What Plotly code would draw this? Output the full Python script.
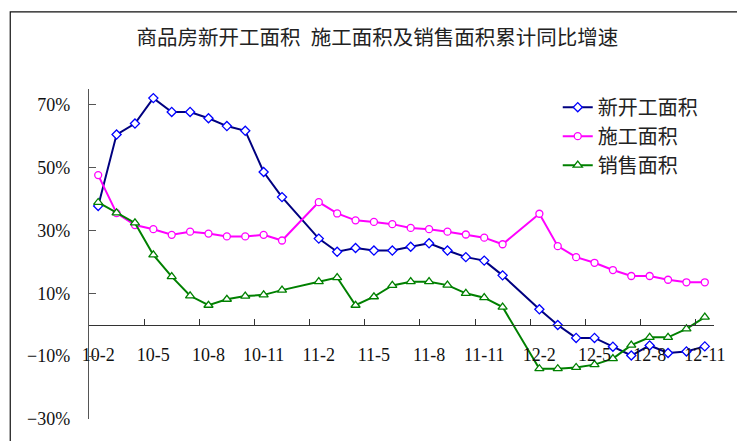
import plotly.graph_objects as go

# Month categories (Jan data merged into Feb, so Jan is blank)
months = ["10-2","10-3","10-4","10-5","10-6","10-7","10-8","10-9","10-10","10-11","10-12",
          "11-1","11-2","11-3","11-4","11-5","11-6","11-7","11-8","11-9","11-10","11-11","11-12",
          "12-1","12-2","12-3","12-4","12-5","12-6","12-7","12-8","12-9","12-10","12-11"]
tick_labels = ["10-2","10-5","10-8","10-11","11-2","11-5","11-8","11-11","12-2","12-5","12-8","12-11"]

new_start = [37.8, 60.5, 64.0, 72.1, 67.7, 67.7, 65.7, 63.2, 61.7, 48.6, 40.6,
             None, 27.4, 23.2, 24.4, 23.6, 23.6, 24.8, 25.9, 23.6, 21.5, 20.4, 15.7,
             None, 4.9, -0.1, -4.2, -4.2, -7.0, -9.8, -6.6, -9.0, -8.5, -6.9]
construction = [47.6, 35.5, 31.7, 30.4, 28.6, 29.6, 29.0, 28.1, 28.1, 28.6, 26.8,
                None, 39.0, 35.4, 33.2, 32.7, 32.0, 30.8, 30.4, 29.6, 28.7, 27.7, 25.6,
                None, 35.3, 25.0, 21.5, 19.7, 17.4, 15.5, 15.5, 14.3, 13.5, 13.5]
sales = [38.9, 35.6, 32.4, 22.2, 15.3, 9.2, 6.2, 8.1, 9.1, 9.5, 11.0,
         None, 13.7, 15.0, 6.2, 8.9, 12.5, 13.7, 13.7, 12.6, 10.0, 8.6, 5.6,
         None, -14.0, -14.0, -13.6, -12.7, -10.8, -6.5, -4.0, -4.0, -1.3, 2.4]

y_ticks = [-30, -10, 10, 30, 50, 70]
y_tick_text = [("\u2212" if v < 0 else "") + f"{abs(v)}%" for v in y_ticks]

x = list(range(len(months)))
tick_pos = [months.index(t) for t in tick_labels]
minor_pos = [p - 0.5 for p in tick_pos[1:]]

cjk = "Noto Sans CJK SC"
serif = "Liberation Serif"

fig = go.Figure()
fig.add_trace(go.Scatter(
    x=x, y=new_start, name="新开工面积", mode="lines+markers", connectgaps=True,
    line=dict(color="#000080", width=2),
    marker=dict(symbol="diamond", size=7, color="white", line=dict(color="#0000FF", width=1.3)),
    customdata=months))
fig.add_trace(go.Scatter(
    x=x, y=construction, name="施工面积", mode="lines+markers", connectgaps=True,
    line=dict(color="#FF00FF", width=2),
    marker=dict(symbol="circle", size=7, color="white", line=dict(color="#FF00FF", width=1.3)),
    customdata=months))
fig.add_trace(go.Scatter(
    x=x, y=sales, name="销售面积", mode="lines+markers", connectgaps=True,
    line=dict(color="#008000", width=2),
    marker=dict(symbol="triangle-up", size=8, color="white", line=dict(color="#008000", width=1.3)),
    customdata=months))

fig.update_layout(
    width=737, height=441,
    margin=dict(l=89, r=15, t=89, b=22),
    paper_bgcolor="white", plot_bgcolor="white",
    showlegend=True,
    title=dict(text="商品房新开工面积\u2002施工面积及销售面积累计同比增速",
               x=0.512, xanchor="center", y=0.915, yanchor="middle",
               font=dict(family=cjk, size=20.5, color="#222")),
    legend=dict(x=0.75, y=1.004, xanchor="left", yanchor="top",
                font=dict(family=cjk, size=20, color="#222"),
                bgcolor="rgba(0,0,0,0)", tracegroupgap=0),
    xaxis=dict(range=[-0.5, 33.5], showgrid=False, zeroline=False,
               showline=True, linecolor="#333", linewidth=1.3,
               anchor="free", position=30/105,
               tickmode="array", tickvals=tick_pos, ticktext=tick_labels,
               ticks="", ticklabelstandoff=14,
               tickfont=dict(family=serif, size=18, color="#111"),
               minor=dict(tickvals=minor_pos, ticks="inside", ticklen=6,
                          tickcolor="#333", tickwidth=1, showgrid=False)),
    yaxis=dict(range=[-30, 75], domain=[0, 1], showgrid=False, zeroline=False,
               showline=True, linecolor="#555", linewidth=1.3,
               tickmode="array", tickvals=y_ticks, ticktext=y_tick_text,
               ticks="inside", ticklen=7, tickcolor="#555",
               ticklabelstandoff=14,
               tickfont=dict(family=serif, size=18, color="#111")),
    shapes=[dict(type="rect", xref="paper", yref="paper",
                 x0=-0.126, x1=1.06, y0=-0.12, y1=1.234,
                 line=dict(color="#111", width=1.2), fillcolor="rgba(0,0,0,0)", layer="below")],
)

fig.write_html("out.html")
